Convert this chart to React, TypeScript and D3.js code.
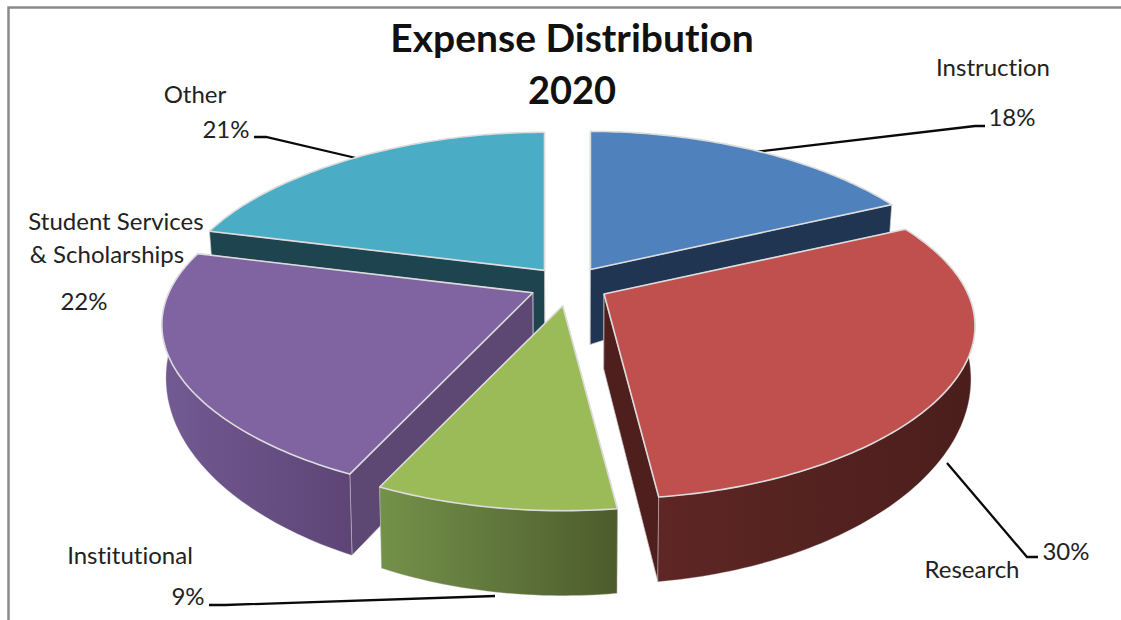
import React from "react";
import * as d3 from "d3";

const categories = ["Instruction", "Research", "Institutional", "Student Services & Scholarships", "Other"];
const values = [18, 30, 9, 22, 21];
const topColors = ["#4F81BD", "#C0504D", "#9BBB59", "#8064A2", "#4BACC6"];
const radialColors = ["#1F3552", "#4F1F1E", "#5C4873", "#5C4873", "#1E454F"];
const wallStart = ["#2A4466", "#5E2624", "#74914A", "#725A93", "#2A5A66"];
const wallEnd = ["#1F3552", "#4A1E1C", "#4C5C2C", "#5E4576", "#1E454F"];
const drawOrder = [4, 0, 3, 1, 2];

const W = 1121, H = 620;
const CX = 569, CY = 283, R = 364, K = 165, P = 0.195;

const pie = d3.pie<number>().sort(null).startAngle(0).endAngle(2 * Math.PI);
const arcs = pie(values);
const line = d3.line<[number, number]>();
const closed = (pts: [number, number][]) => line(pts) + "Z";

function apexOf(mid: number): [number, number] {
  const dy = -Math.cos(mid);
  return [CX + 40 * Math.sin(mid), CY + dy * (dy > 0 ? 23 : 16)];
}
function rimPoint(apex: [number, number], t: number): [number, number] {
  const x = Math.sin(t), y = -Math.cos(t);
  const fy = 1 / (1 - P * y);
  const fx = 1 + 0.2 * y;
  return [apex[0] + x * R * fx, apex[1] + y * K * fy];
}
function dropPoint(p: [number, number], t: number): [number, number] {
  const y = Math.max(0, -Math.cos(t));
  const h = 46 + 39 * y;
  return [CX + (p[0] - CX) * 0.99, p[1] + h];
}
function angles(a0: number, a1: number) {
  const n = Math.max(2, Math.ceil(((a1 - a0) * 180) / Math.PI));
  return d3.range(n + 1).map((i) => a0 + ((a1 - a0) * i) / n);
}

const labels = [
  { text: "Instruction", x: 993, y: 76 },
  { text: "18%", x: 1012, y: 126 },
  { text: "Research", x: 972, y: 578 },
  { text: "30%", x: 1066, y: 560 },
  { text: "Institutional", x: 130, y: 564 },
  { text: "9%", x: 188, y: 605 },
  { text: "Student Services", x: 116, y: 230 },
  { text: "& Scholarships", x: 107, y: 263 },
  { text: "22%", x: 84, y: 310 },
  { text: "Other", x: 195, y: 103 },
  { text: "21%", x: 226, y: 138 },
];
const leaders: [number, number][][] = [
  [[755, 152], [975, 126], [985, 126]],
  [[356, 158], [266, 137], [254, 137]],
  [[947, 463], [1027, 557], [1038, 557]],
  [[495, 596], [225, 605], [209, 605]],
];

export default function App() {
  return (
    <svg width={W} height={H} style={{ position: "absolute", left: 0, top: 0, display: "block", background: "#fff", fontVariantLigatures: "none" }}
      fontFamily="Lato, 'Open Sans', sans-serif">
      <defs>
        {arcs.map((a, i) => {
          const apex = apexOf((a.startAngle + a.endAngle) / 2);
          const xs = angles(a.startAngle, a.endAngle).map((t) => rimPoint(apex, t)[0]);
          return (
            <linearGradient key={i} id={`wall${i}`} gradientUnits="userSpaceOnUse"
              x1={d3.min(xs)} x2={d3.max(xs)} y1={0} y2={0}>
              <stop offset="0" stopColor={wallStart[i]} />
              <stop offset="1" stopColor={wallEnd[i]} />
            </linearGradient>
          );
        })}
      </defs>
      <path d="M8.5,620V7.5H1121" fill="none" stroke="#8a8a8a" strokeWidth={2.5} />
      {leaders.map((l, i) => (
        <path key={i} d={line(l) as string} fill="none" stroke="#0a0a0a" strokeWidth={2.3} />
      ))}
      {drawOrder.map((i) => {
        const a = arcs[i];
        const apex = apexOf((a.startAngle + a.endAngle) / 2);
        const ts = angles(a.startAngle, a.endAngle);
        const rim = ts.map((t) => rimPoint(apex, t));
        const low = rim.map((p, k) => dropPoint(p, ts[k]));
        const apexLow: [number, number] = [CX + (apex[0] - CX) * 0.99, apex[1] + 75];
        const last = rim.length - 1;
        const wallA = [apex, rim[0], low[0], apexLow] as [number, number][];
        const wallB = [apex, rim[last], low[last], apexLow] as [number, number][];
        const walls = rim[0][1] < rim[last][1] ? [wallA, wallB] : [wallB, wallA];
        const front = ts.map((t, k) => k).filter((k) => Math.cos(ts[k]) <= 0);
        const outer = [...front.map((k) => rim[k]), ...front.slice().reverse().map((k) => low[k])] as [number, number][];
        return (
          <g key={categories[i]}>
            {walls.map((w, k) => (
              <path key={k} d={closed(w)} fill={radialColors[i]} stroke="#d0d0d0" strokeOpacity={0.7} strokeWidth={1} strokeLinejoin="round" />
            ))}
            {front.length > 1 && (
              <path d={closed(outer)} fill={`url(#wall${i})`} stroke="#d0d0d0" strokeOpacity={0.35} strokeWidth={1} strokeLinejoin="round" />
            )}
            <path d={closed([apex, ...rim])} fill={topColors[i]} stroke="#dcdcdc" strokeWidth={1.6} strokeLinejoin="round" />
          </g>
        );
      })}
      <text x={572} y={52} textAnchor="middle" fontSize={39} fontWeight={700} fill="#111">Expense Distribution</text>
      <text x={572} y={104} textAnchor="middle" fontSize={38} fontWeight={700} fill="#111">2020</text>
      {labels.map((l, i) => (
        <text key={i} x={l.x} y={l.y} textAnchor="middle" fontSize={24} fill="#222">{l.text}</text>
      ))}
    </svg>
  );
}
